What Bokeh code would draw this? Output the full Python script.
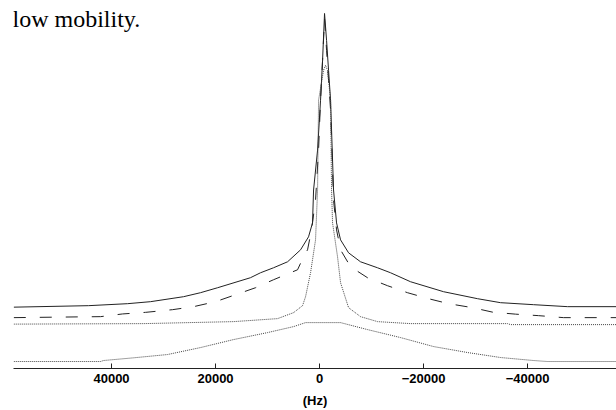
from bokeh.plotting import figure
from bokeh.models import Range1d, Label, FixedTicker
from bokeh.embed import file_html
from bokeh.resources import INLINE

# Frequency offset (Hz) and intensity (arbitrary units)
solid_hz = [58800, 44400, 36900, 32500, 26150, 22900, 19600, 13300, 11350, 8850,
            6150, 3650, 2120, 1350, 1150, 380, -190, -580, -960, -1350, -1730,
            -2120, -2690, -3270, -4040, -5580, -7880, -11150, -13650, -17500,
            -23850, -30380, -34800, -41150, -47700, -57100]
solid_int = [61.5, 63, 65, 67, 72, 76, 81, 91, 96, 101,
             107, 119, 132, 146, 179, 219, 269, 309, 356, 329, 299,
             269, 179, 146, 129, 116, 107, 101, 96, 87,
             77, 70, 66, 64, 62, 62]

dashed_hz = [58800, 42100, 37880, 33460, 28270, 24230, 20000, 16150, 12310, 8850,
             4230, 3080, 2310, 1540, 770, 190, -190, -580, -960, -1350, -1730,
             -2120, -2690, -3270, -4040, -5960, -9230, -13080, -16920, -20960,
             -24810, -29420, -33270, -37690, -42110, -46920, -57100]
dashed_int = [51, 52, 54.7, 56.3, 59, 62, 67, 74, 81, 89,
              99, 112, 119, 139, 169, 219, 269, 309, 351, 319, 289,
              259, 169, 139, 119, 102, 91, 83, 76, 70,
              65, 61, 56.5, 54.5, 53, 51, 51]

narrow_hz = [58800, 33850, 16540, 8080, 5000, 3270, 2690, 1730, 770, 380, 190,
             -770, -1150, -1540, -2120, -2310, -2500, -3460, -4040, -5580,
             -7880, -11150, -17500, -36150, -36730, -57100]
narrow_int = [44.5, 45, 47, 50, 56, 63, 72, 96, 129, 179, 269,
              299, 304, 299, 269, 179, 146, 112, 86, 61,
              52, 47, 45, 45, 44, 44]

broad_hz = [58800, 42100, 41540, 35770, 29230, 22880, 16540, 10000, 5000, 2690,
            -4040, -9230, -15580, -21920, -28460, -34810, -41150, -43840, -57100]
broad_int = [7, 7, 8, 10.7, 14, 21, 29, 36, 42, 46,
             46, 39, 31, 22, 16, 11, 8, 7, 7]

tick_values = [40000, 20000, 0, -20000, -40000]
x_label = "(Hz)"
caption = "low mobility."

p = figure(width=616, height=410, output_backend="svg", toolbar_location=None,
           x_range=Range1d(58850, -57100), y_range=Range1d(0, 369),
           y_axis_type=None, min_border_left=13, min_border_right=0,
           min_border_top=0, min_border_bottom=41)
p.outline_line_color = None
p.xgrid.grid_line_color = None
p.ygrid.grid_line_color = None
p.background_fill_color = "white"
p.border_fill_color = "white"

p.line(solid_hz, solid_int, line_color="#222222", line_width=1)
p.line(dashed_hz, dashed_int, line_color="#222222", line_width=1, line_dash="12 14")
p.line(narrow_hz, narrow_int, line_color="#444444", line_width=1, line_dash="1 1")
p.line(broad_hz, broad_int, line_color="#444444", line_width=1, line_dash="1 1")

ax = p.xaxis[0]
ax.ticker = FixedTicker(ticks=tick_values)
ax.major_tick_in = 5
ax.major_tick_out = 0
ax.minor_tick_line_color = None
ax.axis_line_color = "#222222"
ax.major_tick_line_color = "#222222"
ax.major_label_text_font = "Liberation Sans"
ax.major_label_text_font_style = "bold"
ax.major_label_text_font_size = "13px"
ax.major_label_text_color = "black"
ax.major_label_standoff = 5
ax.axis_label = x_label
ax.axis_label_text_font = "Liberation Sans"
ax.axis_label_text_font_style = "bold"
ax.axis_label_text_font_size = "13px"
ax.axis_label_text_color = "black"
ax.axis_label_standoff = 7

p.add_layout(Label(x=-1, y=350, x_units="screen", y_units="screen", text=caption,
                   text_font="Liberation Serif", text_font_size="24px",
                   text_baseline="alphabetic", text_color="black"))

open("out.html", "w").write(file_html(p, INLINE))
